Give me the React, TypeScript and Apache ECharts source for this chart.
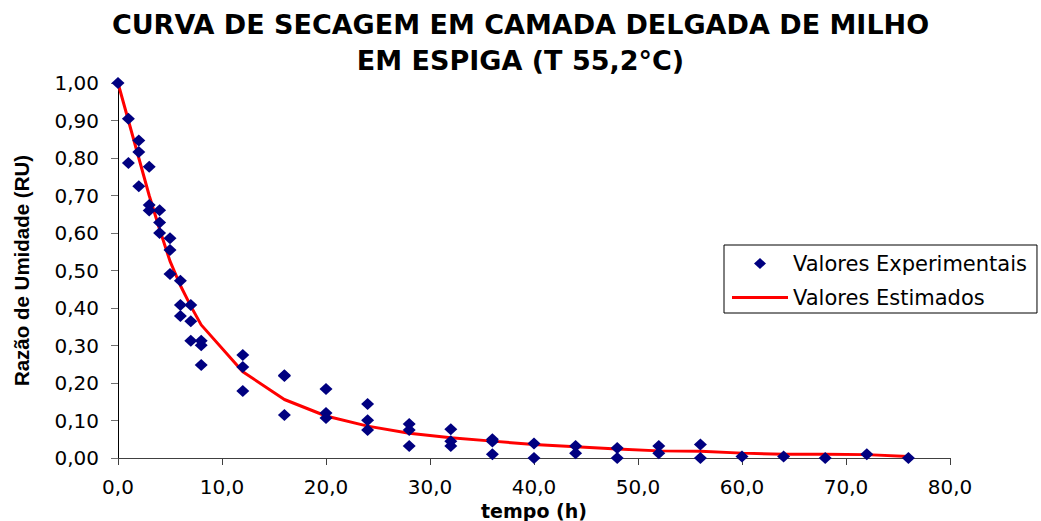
import React, { useEffect, useRef } from "react";
import * as echarts from "echarts";

const expTime = [0, 1, 1, 2, 2, 2, 3, 3, 3, 4, 4, 4, 5, 5, 5, 6, 6, 6, 7, 7, 7, 8, 8, 8, 12, 12, 12, 16, 16, 16, 20, 20, 20, 24, 24, 24, 28, 28, 28, 32, 32, 32, 36, 36, 36, 40, 40, 44, 44, 48, 48, 52, 52, 56, 56, 60, 64, 68, 72, 76];
const expRU = [1.0, 0.905, 0.787, 0.847, 0.816, 0.725, 0.777, 0.675, 0.66, 0.661, 0.628, 0.6, 0.586, 0.555, 0.491, 0.473, 0.408, 0.379, 0.408, 0.365, 0.313, 0.313, 0.301, 0.248, 0.275, 0.243, 0.179, 0.221, 0.219, 0.115, 0.184, 0.12, 0.107, 0.144, 0.101, 0.075, 0.091, 0.075, 0.032, 0.077, 0.045, 0.032, 0.05, 0.044, 0.01, 0.039, 0.0, 0.032, 0.013, 0.027, 0.0, 0.032, 0.013, 0.036, 0.0, 0.004, 0.004, 0.0, 0.01, 0.0];

const estTime = [0, 1, 2, 3, 4, 5, 6, 7, 8, 12, 16, 20, 24, 28, 32, 36, 40, 44, 48, 52, 56, 60, 64, 68, 72, 76];
const estRU = [1.0, 0.9, 0.8, 0.7, 0.61, 0.525, 0.46, 0.405, 0.355, 0.23, 0.156, 0.112, 0.085, 0.066, 0.054, 0.045, 0.036, 0.03, 0.024, 0.019, 0.018, 0.013, 0.01, 0.01, 0.009, 0.004];

const titleText = "CURVA DE SECAGEM EM CAMADA DELGADA DE MILHO\nEM ESPIGA (T 55,2°C)";
const xName = "tempo (h)";
const yName = "Razão de Umidade (RU)";
const legendNames = ["Valores Experimentais", "Valores Estimados"];

export default function App() {
  const ref = useRef<HTMLDivElement>(null);
  useEffect(() => {
    document.body.style.margin = "0";
    if (!ref.current) return;
    const chart = echarts.init(ref.current, undefined, { renderer: "svg" });
    const font = "DejaVu Sans, Arial, sans-serif";
    chart.setOption({
      animation: false,
      backgroundColor: "#fff",
      title: {
        text: titleText,
        left: "center",
        top: 6,
        padding: [0, 0, 0, 32],
        textStyle: {
          fontFamily: font,
          fontWeight: "bold",
          fontSize: 27,
          lineHeight: 36,
          color: "#000",
        },
      },
      legend: {
        data: [
          {
            name: legendNames[0],
            icon: "path://M0,6.5 L0,6.5 M28,1 L34,6.5 L28,12 L22,6.5 Z M56,6.5 L56,6.5 M28,0 L28,0 M28,13 L28,13",
          },
          { name: legendNames[1], icon: "path://M0,5 L56,5 L56,8 L0,8 Z M0,0 L0,0 M0,13 L0,13" },
        ],
        orient: "vertical",
        left: 724,
        top: 245,
        borderColor: "#000",
        borderWidth: 1,
        backgroundColor: "#fff",
        padding: [8, 10, 5, 8],
        itemWidth: 56,
        itemHeight: 13,
        itemGap: 13,
        textStyle: { fontFamily: font, fontSize: 21, color: "#000", lineHeight: 21 },
      },
      grid: { left: 118, right: 91, top: 83, bottom: 63, containLabel: false, outerBoundsMode: "none" },
      xAxis: {
        type: "value",
        min: 0,
        max: 80,
        interval: 10,
        name: xName,
        nameLocation: "middle",
        nameGap: 38,
        nameTextStyle: { fontFamily: font, fontWeight: "bold", fontSize: 19, lineHeight: 19, color: "#000" },
        axisLine: { show: true, lineStyle: { color: "#404040", width: 1 } },
        axisTick: { show: true, length: 7, lineStyle: { color: "#404040" } },
        axisLabel: {
          fontFamily: font,
          fontSize: 20,
          color: "#000",
          margin: 19,
          formatter: (v: number) => v.toFixed(1).replace(".", ","),
        },
        splitLine: { show: false },
      },
      yAxis: {
        type: "value",
        min: 0,
        max: 1,
        interval: 0.1,
        name: yName,
        nameLocation: "middle",
        nameRotate: 90,
        nameGap: 86,
        nameTextStyle: { fontFamily: "Liberation Sans, Arial, sans-serif", fontWeight: "bold", fontSize: 20.5, color: "#000" },
        axisLine: { show: true, lineStyle: { color: "#000", width: 1 } },
        axisTick: { show: true, length: 7, lineStyle: { color: "#707070" } },
        axisLabel: {
          fontFamily: font,
          fontSize: 20,
          color: "#000",
          margin: 19,
          formatter: (v: number) => v.toFixed(2).replace(".", ","),
        },
        splitLine: { show: false },
      },
      series: [
        {
          name: legendNames[0],
          type: "scatter",
          symbol: "diamond",
          symbolSize: [13, 12],
          itemStyle: { color: "#000080", opacity: 1 },
          z: 3,
          data: expTime.map((t, i) => [t, expRU[i]]),
        },
        {
          name: legendNames[1],
          type: "line",
          symbol: "none",
          lineStyle: { color: "#ff0000", width: 3 },
          itemStyle: { color: "#ff0000" },
          z: 2,
          data: estTime.map((t, i) => [t, estRU[i]]),
        },
      ],
    });
    return () => chart.dispose();
  }, []);
  return <div ref={ref} style={{ width: 1041, height: 521 }} />;
}
